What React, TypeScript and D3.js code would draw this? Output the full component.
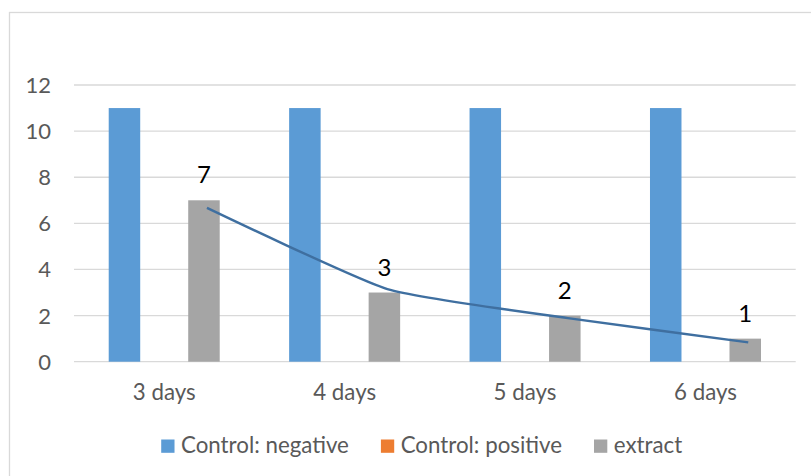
import React, { useEffect, useRef } from "react";
import * as d3 from "d3";

const categories = ["3 days", "4 days", "5 days", "6 days"];
const seriesNames = ["Control: negative", "Control: positive", "extract"];
const controlNegative = [11, 11, 11, 11];
const controlPositive = [0, 0, 0, 0];
const extract = [7, 3, 2, 1];
const trendValues = [6.67, 3.15, 1.89, 0.84];
const yTicks = [0, 2, 4, 6, 8, 10, 12];
const seriesColors = ["#5B9BD5", "#ED7D31", "#A5A5A5"];

const W = 811;
const H = 476;
const FONT = "Lato, 'Liberation Sans', sans-serif";
const TEXT = "#595959";

export default function App() {
  const ref = useRef<SVGSVGElement>(null);

  useEffect(() => {
    const svg = d3.select(ref.current);
    svg.selectAll("*").remove();

    svg.append("rect").attr("x", 0).attr("y", 0).attr("width", W).attr("height", H).attr("fill", "#fff");
    svg
      .append("rect")
      .attr("x", 9.5)
      .attr("y", 12.5)
      .attr("width", W + 20)
      .attr("height", H + 20)
      .attr("fill", "none")
      .attr("stroke", "#D9D9D9")
      .attr("stroke-width", 1.3);

    const left = 74;
    const right = 795.7;
    const y = d3.scaleLinear().domain([0, 12]).range([361.7, 85]);
    const x0 = d3.scaleBand<string>().domain(categories).range([left, right]).padding(0);
    const x1 = d3
      .scaleBand<string>()
      .domain(seriesNames)
      .range([0, x0.bandwidth()])
      .paddingInner(0.2075)
      .paddingOuter(0.873);

    // gridlines
    svg
      .append("g")
      .selectAll("line")
      .data(yTicks)
      .join("line")
      .attr("x1", left)
      .attr("x2", right)
      .attr("y1", (d) => y(d))
      .attr("y2", (d) => y(d))
      .attr("stroke", "#D9D9D9")
      .attr("stroke-width", 1.3);

    // y tick labels
    svg
      .append("g")
      .selectAll("text")
      .data(yTicks)
      .join("text")
      .attr("x", 51)
      .attr("y", (d) => y(d))
      .attr("dy", "0.36em")
      .attr("text-anchor", "end")
      .attr("font-family", FONT)
      .attr("font-size", 22)
      .attr("fill", TEXT)
      .text((d) => String(d));

    const allSeries = [controlNegative, controlPositive, extract];
    allSeries.forEach((vals, si) => {
      svg
        .append("g")
        .selectAll("rect")
        .data(vals)
        .join("rect")
        .attr("x", (_, i) => (x0(categories[i]) as number) + (x1(seriesNames[si]) as number))
        .attr("width", x1.bandwidth())
        .attr("y", (d) => y(d))
        .attr("height", (d) => y(0) - y(d))
        .attr("fill", seriesColors[si]);
    });

    // trend line over extract bars
    const cx = (i: number) =>
      (x0(categories[i]) as number) + (x1("extract") as number) + x1.bandwidth() / 2;
    const line = d3
      .line<number>()
      .x((_, i) => cx(i) + 3)
      .y((d) => y(d))
      .curve(d3.curveCardinal.tension(0.5));
    svg
      .append("path")
      .attr("d", line(trendValues) as string)
      .attr("fill", "none")
      .attr("stroke", "#3F6FA0")
      .attr("stroke-width", 2.4);

    // data labels
    svg
      .append("g")
      .selectAll("text")
      .data(extract)
      .join("text")
      .attr("x", (_, i) => cx(i))
      .attr("y", (d) => y(d) - 17)
      .attr("text-anchor", "middle")
      .attr("font-family", FONT)
      .attr("font-size", 24)
      .attr("fill", "#000")
      .text((d) => String(d));

    // x labels
    svg
      .append("g")
      .selectAll("text")
      .data(categories)
      .join("text")
      .attr("x", (d) => (x0(d) as number) + x0.bandwidth() / 2)
      .attr("y", 400)
      .attr("text-anchor", "middle")
      .attr("font-family", FONT)
      .attr("font-size", 22.3)
      .attr("fill", TEXT)
      .text((d) => d);

    // legend
    const lg = svg.append("g");
    const sq = 13.3;
    const gapText = 6.5;
    const gapItem = 32;
    const items = seriesNames.map((name, i) => {
      const g = lg.append("g");
      g.append("rect").attr("width", sq).attr("height", sq).attr("y", 439.5).attr("fill", seriesColors[i]);
      const t = g
        .append("text")
        .attr("x", sq + gapText)
        .attr("y", 453.3)
        .attr("font-family", FONT)
        .attr("font-size", 22.3)
        .attr("fill", TEXT)
        .text(name);
      const w = (t.node() as SVGTextElement).getComputedTextLength();
      return { g, w: sq + gapText + w };
    });
    const total = items.reduce((s, it) => s + it.w, 0) + gapItem * (items.length - 1);
    let xs = 421.7 - total / 2;
    items.forEach((it) => {
      it.g.attr("transform", `translate(${xs},0)`);
      xs += it.w + gapItem;
    });
  }, []);

  return (
    <svg
      ref={ref}
      width={W}
      height={H}
      style={{ position: "absolute", left: 0, top: 0, display: "block" }}
    />
  );
}
